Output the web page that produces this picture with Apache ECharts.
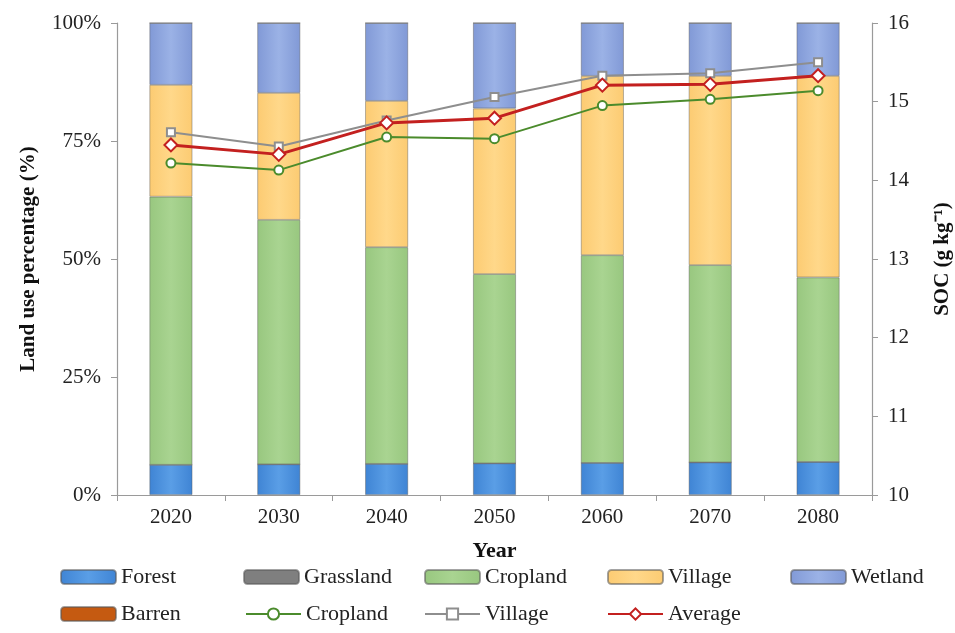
<!DOCTYPE html>
<html>
<head>
<meta charset="utf-8">
<script src="https://cdn.jsdelivr.net/npm/echarts@6/dist/echarts.min.js"></script>
<style>html,body{margin:0;padding:0;background:#fff}#c{width:955px;height:633px}</style>
</head>
<body>
<div id="c"></div>
<script>
const years = ['2020','2030','2040','2050','2060','2070','2080'];
// land use shares (%)
const forest    = [6.4, 6.5, 6.6, 6.7, 6.8, 6.9, 7.0];
const grassland = [0, 0, 0, 0, 0, 0, 0];
const cropland  = [56.8, 51.8, 45.9, 40.1, 44.0, 41.8, 39.1];
const village   = [23.7, 26.9, 31.0, 35.1, 38.0, 40.1, 42.7];
const wetland   = [13.1, 14.8, 16.5, 18.1, 11.2, 11.2, 11.2];
const barren    = [0, 0, 0, 0, 0, 0, 0];
// SOC (g kg-1)
const socCropland = [14.22, 14.13, 14.55, 14.53, 14.95, 15.03, 15.14];
const socVillage  = [14.61, 14.43, 14.76, 15.06, 15.33, 15.36, 15.50];
const socAverage  = [14.45, 14.33, 14.73, 14.79, 15.21, 15.22, 15.33];
const leftTicks = [0, 25, 50, 75, 100];

const FONT = '"Liberation Serif", "Times New Roman", serif';
const chart = echarts.init(document.getElementById('c'));

function grad(top, bottom) {
  return new echarts.graphic.LinearGradient(0, 0, 1, 0, [
    {offset: 0, color: bottom}, {offset: 0.5, color: top}, {offset: 1, color: bottom}
  ]);
}
function bar(name, data, color, c2) {
  return {
    name, type: 'bar', stack: 'lu', data, barWidth: 43,
    itemStyle: {color: c2 ? grad(color, c2) : color, borderColor: 'rgba(90,90,90,0.55)', borderWidth: 0.8},
    emphasis: {disabled: true}
  };
}
function line(name, data, color, symbol, size, width) {
  return {
    name, type: 'line', yAxisIndex: 1, data, symbol, symbolSize: size,
    lineStyle: {color, width}, itemStyle: {color: '#fff', borderColor: color, borderWidth: 2},
    z: 10, emphasis: {disabled: true}
  };
}
const legendText = {fontFamily: FONT, fontSize: 22, color: '#222'};
const fmt = n => n.replace(' SOC', '');
function leg(left, top, name) {
  return {left, top, orient: 'horizontal', itemGap: 5, itemWidth: 55, itemHeight: 14,
    textStyle: legendText, formatter: fmt, data: [name], selectedMode: false, padding: 0};
}

chart.setOption({
  animation: false,
  backgroundColor: '#fff',
  grid: {left: 117, right: 83, top: 23, bottom: 138, containLabel: false, outerBoundsMode: 'none'},
  legend: [
    leg(60, 566, 'Forest'),
    leg(60, 603, 'Barren'),
    leg(243, 566, 'Grassland'),
    leg(245, 603, 'Cropland SOC'),
    leg(424, 566, 'Cropland'),
    leg(424, 603, 'Village SOC'),
    leg(607, 566, 'Village'),
    leg(607, 603, 'Average'),
    leg(790, 566, 'Wetland')
  ],
  xAxis: {
    type: 'category', data: years,
    name: 'Year', nameLocation: 'middle', nameGap: 45,
    nameTextStyle: {fontFamily: FONT, fontSize: 22, fontWeight: 'bold', color: '#111'},
    axisLine: {lineStyle: {color: '#9a9a9a', width: 1.2}},
    axisTick: {show: true, length: 6, lineStyle: {color: '#9a9a9a'}},
    axisLabel: {fontFamily: FONT, fontSize: 21, color: '#222', margin: 12}
  },
  yAxis: [
    {
      type: 'value', min: 0, max: 100, interval: 25,
      name: 'Land use percentage (%)', nameLocation: 'middle', nameGap: 78, nameRotate: 90,
      nameTextStyle: {fontFamily: FONT, fontSize: 21, fontWeight: 'bold', color: '#111'},
      axisLine: {show: true, lineStyle: {color: '#9a9a9a', width: 1.2}},
      axisTick: {show: true, length: 6, lineStyle: {color: '#9a9a9a'}},
      splitLine: {show: false},
      axisLabel: {fontFamily: FONT, fontSize: 21, color: '#222', margin: 16,
        formatter: v => leftTicks.includes(v) ? v + '%' : ''}
    },
    {
      type: 'value', min: 10, max: 16, interval: 1, position: 'right',
      name: 'SOC (g kg\u207B\u00B9)', nameLocation: 'middle', nameGap: 60, nameRotate: 90,
      nameTextStyle: {fontFamily: FONT, fontSize: 21, fontWeight: 'bold', color: '#111'},
      axisLine: {show: true, lineStyle: {color: '#9a9a9a', width: 1.2}},
      axisTick: {show: true, length: 6, lineStyle: {color: '#9a9a9a'}},
      splitLine: {show: false},
      axisLabel: {fontFamily: FONT, fontSize: 21, color: '#222', margin: 16}
    }
  ],
  series: [
    bar('Forest', forest, '#5a9ee6', '#3f84d4'),
    bar('Grassland', grassland, '#7f7f7f'),
    bar('Cropland', cropland, '#a9d491', '#98c77f'),
    bar('Village', village, '#ffd88a', '#fccb72'),
    bar('Wetland', wetland, '#9bb2e6', '#8199d6'),
    bar('Barren', barren, '#c55a11'),
    line('Cropland SOC', socCropland, '#4b8b2c', 'circle', 9, 2),
    line('Village SOC', socVillage, '#8e8e8e', 'rect', 8, 2),
    line('Average', socAverage, '#c3201f', 'diamond', 13, 3)
  ]
});
</script>
</body>
</html>
